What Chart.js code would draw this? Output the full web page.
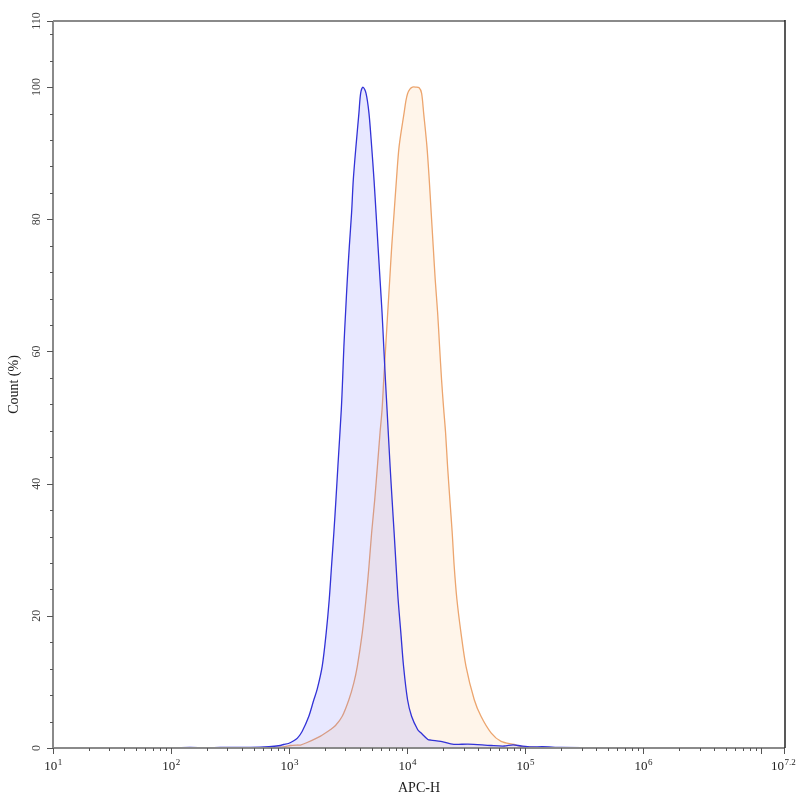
<!DOCTYPE html>
<html>
<head>
<meta charset="utf-8">
<script src="https://cdn.jsdelivr.net/npm/chart.js@4"></script>
<style>
  html, body { margin: 0; padding: 0; background: #fff; }
  #wrap { width: 800px; height: 800px; }
</style>
</head>
<body>
<div id="wrap"><canvas id="c" width="800" height="800"></canvas></div>
<script>
// ---- Data (APC-H value, Count %) ----
const blueX = [100,145,200,261,570,843,894,985,1094,1175,1288,1469,1619,1729,1907,2062,2187,2286,2393,2490,2588,2766,2837,2910,3007,3110,3235,3381,3496,3681,3902,4036,4220,4477,4742,5000,5234,5445,5662,5888,6123,6328,6541,6750,7166,7452,7748,8056,8377,8831,9311,10070,10890,12250,13060,14970,15860,19280,24870,32720,51330,66200,78900,92300,112000,140000,202000,442000,3100000,15848932];
const blueY = [0,0.1,0,0.1,0.12,0.38,0.53,0.68,1.1,1.5,2.5,4.8,7.3,8.9,12.4,17.5,22.5,27.5,32.6,37.5,42.6,51.2,55.7,60.8,65.9,70.9,75.9,81.0,86.0,91.0,96.1,99.1,100,99.1,96.1,91.0,86.0,81.0,75.9,70.9,65.9,60.8,55.7,51.2,42.6,37.5,32.6,27.5,22.5,17.5,12.4,7.3,4.8,2.8,2.3,1.3,1.2,1.0,0.55,0.6,0.38,0.3,0.48,0.3,0.15,0.2,0.08,0.02,0.04,0];

const orangeX = [100,570,894,1026,1175,1247,1422,1845,2244,2471,2817,3206,3536,3782,4170,4477,4746,5000,5305,5593,5888,6125,6328,6580,6840,7114,7396,7748,8110,8538,9413,9750,10070,10540,11090,11830,12620,13240,13780,14700,15370,15970,16610,17270,18100,18800,19550,20330,21140,21980,23000,24050,25010,26360,28510,31450,36990,42180,51330,62400,80500,92300,123000,202000,442000,15848932];
const orangeY = [0,0,0.15,0.38,0.45,0.45,0.83,1.8,2.8,3.4,4.8,7.3,9.9,12.4,17.5,22.5,27.5,32.6,37.5,42.6,47.7,51.2,55.7,60.8,65.9,70.9,75.9,81.0,86.0,91.0,96.1,97.9,99.0,99.7,100,100,99.9,99.1,96.1,91.0,86.0,81.0,75.9,70.9,65.9,60.8,55.7,51.5,47.7,42.6,37.5,32.6,27.5,22.5,17.5,12.4,7.3,4.8,2.3,1.0,0.53,0.23,0.1,0.05,0,0];

// ---- Tick definitions ----
const xTickExps = [1,2,3,4,5,6,7.2];
const xTickLabels = ['1','2','3','4','5','6','7.2'];
const yTickValues = [0,20,40,60,80,100,110];
const yTickLabels = ['0','20','40','60','80','100','110'];
const yMinorStep = 4;
const xTitle = 'APC-H';
const yTitle = 'Count (%)';

const toPts = (xs, ys) => xs.map((x, i) => ({x: x, y: ys[i]}));

const SERIF = '"Liberation Serif", "Times New Roman", serif';

const axesPlugin = {
  id: 'flowAxes',
  afterDraw(chart) {
    const ctx = chart.ctx;
    const xs = chart.scales.x, ys = chart.scales.y;
    const a = chart.chartArea;
    ctx.save();
    // frame
    ctx.lineWidth = 2;
    ctx.strokeStyle = '#8a8a8a';
    ctx.beginPath();
    ctx.moveTo(a.left, a.top); ctx.lineTo(a.right, a.top);
    ctx.moveTo(a.left, a.top); ctx.lineTo(a.left, a.bottom);
    ctx.moveTo(a.left - 1, a.bottom); ctx.lineTo(a.right, a.bottom);
    ctx.stroke();
    ctx.lineWidth = 1.5;
    ctx.strokeStyle = '#222';
    ctx.beginPath();
    ctx.moveTo(a.right, a.top - 1); ctx.lineTo(a.right, a.bottom);
    ctx.stroke();

    // x ticks
    ctx.strokeStyle = '#555';
    ctx.lineWidth = 1;
    ctx.beginPath();
    const maxExp = xTickExps[xTickExps.length - 1];
    for (let d = 1; d <= 7; d++) {
      for (let m = 1; m <= 9; m++) {
        const v = m * Math.pow(10, d);
        if (Math.log10(v) > maxExp + 1e-9) continue;
        const px = Math.round(xs.getPixelForValue(v)) + 0.5;
        const len = m === 1 ? 6 : 3;
        ctx.moveTo(px, a.bottom); ctx.lineTo(px, a.bottom + len);
      }
    }
    const pxEnd = Math.round(xs.getPixelForValue(Math.pow(10, maxExp))) - 0.5;
    ctx.moveTo(pxEnd, a.bottom); ctx.lineTo(pxEnd, a.bottom + 6);
    // y ticks
    for (let v = 0; v <= 110; v += yMinorStep) {
      const py = Math.round(ys.getPixelForValue(v)) + 0.5;
      const len = (v % 20 === 0) ? 6 : 3;
      ctx.moveTo(a.left, py); ctx.lineTo(a.left - len, py);
    }
    const py110 = Math.round(ys.getPixelForValue(110)) + 0.5;
    ctx.moveTo(a.left, py110); ctx.lineTo(a.left - 6, py110);
    ctx.stroke();

    // x tick labels: 10^n
    ctx.fillStyle = '#222';
    ctx.textBaseline = 'alphabetic';
    xTickExps.forEach((e, i) => {
      const px = xs.getPixelForValue(Math.pow(10, e));
      ctx.font = '13px ' + SERIF;
      const wBase = ctx.measureText('10').width;
      ctx.font = '9px ' + SERIF;
      const wExp = ctx.measureText(xTickLabels[i]).width;
      const start = px - (wBase + wExp) / 2 + (i === xTickExps.length - 1 ? -2 : 0);
      ctx.textAlign = 'left';
      ctx.font = '13px ' + SERIF;
      ctx.fillText('10', start, a.bottom + 22);
      ctx.font = '9px ' + SERIF;
      ctx.fillText(xTickLabels[i], start + wBase + 0.5, a.bottom + 17);
    });

    // y tick labels, rotated
    ctx.fillStyle = '#444';
    ctx.font = '12px ' + SERIF;
    ctx.textAlign = 'center';
    ctx.textBaseline = 'middle';
    yTickValues.forEach((v, i) => {
      const py = ys.getPixelForValue(v);
      ctx.save();
      ctx.translate(a.left - 16, py);
      ctx.rotate(-Math.PI / 2);
      ctx.fillText(yTickLabels[i], 0, 0);
      ctx.restore();
    });

    // axis titles
    ctx.fillStyle = '#222';
    ctx.font = '14px ' + SERIF;
    ctx.textAlign = 'center';
    ctx.textBaseline = 'middle';
    ctx.fillText(xTitle, (a.left + a.right) / 2, 788);
    ctx.save();
    ctx.translate(14, (a.top + a.bottom) / 2);
    ctx.rotate(-Math.PI / 2);
    ctx.fillText(yTitle, 0, 0);
    ctx.restore();
    ctx.restore();
  }
};

new Chart(document.getElementById('c'), {
  type: 'line',
  data: {
    datasets: [
      {
        label: 'Blue',
        data: toPts(blueX, blueY),
        borderColor: 'rgb(50,50,215)',
        backgroundColor: 'rgba(110,110,255,0.16)',
        borderWidth: 1.3,
        fill: 'origin',
        pointRadius: 0,
        tension: 0.3
      },
      {
        label: 'Orange',
        data: toPts(orangeX, orangeY),
        borderColor: 'rgb(236,165,110)',
        backgroundColor: 'rgba(255,205,150,0.2)',
        borderWidth: 1.3,
        fill: 'origin',
        pointRadius: 0,
        tension: 0.3
      }
    ]
  },
  options: {
    responsive: false,
    animation: false,
    devicePixelRatio: 1,
    layout: { padding: { left: 53, top: 21, right: 15, bottom: 52 } },
    plugins: { legend: { display: false }, tooltip: { enabled: false } },
    elements: { line: { capBezierPoints: true } },
    scales: {
      x: { type: 'logarithmic', min: 10, max: Math.pow(10, 7.2), display: false },
      y: { type: 'linear', min: 0, max: 110, display: false }
    }
  },
  plugins: [axesPlugin]
});
</script>
</body>
</html>
